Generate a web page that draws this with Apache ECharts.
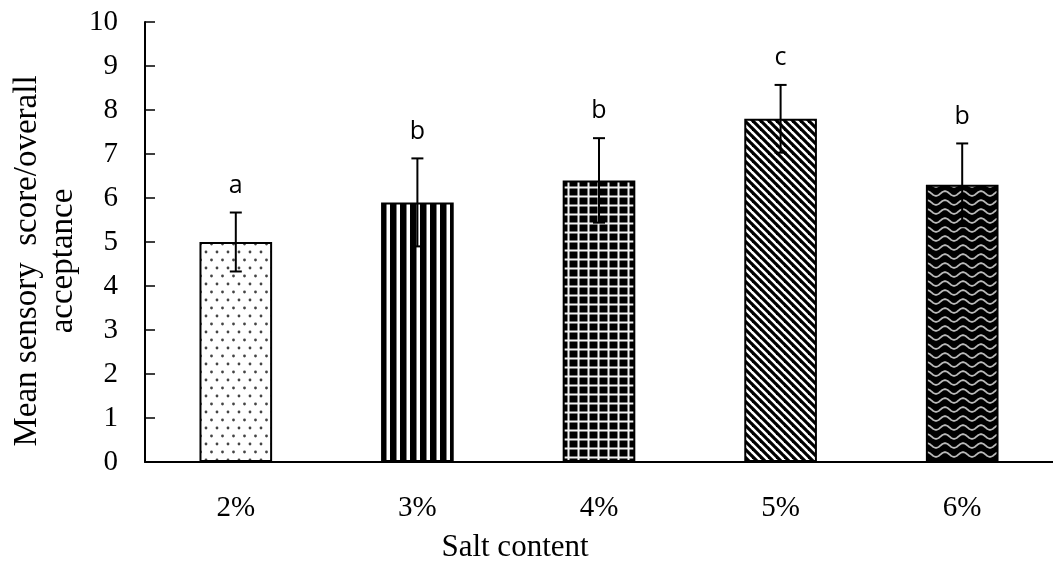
<!DOCTYPE html>
<html>
<head>
<meta charset="utf-8">
<script src="https://cdn.jsdelivr.net/npm/echarts@6/dist/echarts.min.js"></script>
<style>
  html, body { margin: 0; padding: 0; background: #fff; }
  #chart { width: 1053px; height: 567px; }
</style>
</head>
<body>
<div id="chart"></div>
<script>
// Sensory evaluation by salt content
var categories = ['2%', '3%', '4%', '5%', '6%'];
var meanScores = [5.0, 5.9, 6.4, 7.8, 6.3];
var stdDevs = [0.67, 1.0, 0.96, 0.77, 0.94];
var groupLetters = ['a', 'b', 'b', 'c', 'b'];
var yTicks = [0, 1, 2, 3, 4, 5, 6, 7, 8, 9, 10];

var serif = '"Liberation Serif", "Times New Roman", serif';
var sans = '"Open Sans", "Noto Sans", sans-serif';

// Fill patterns, one per bar
function makePattern(w, h, draw) {
  var c = document.createElement('canvas');
  c.width = w; c.height = h;
  var ctx = c.getContext('2d');
  draw(ctx, w, h);
  return { image: c, repeat: 'repeat' };
}

var patDots = makePattern(11, 16, function (ctx, w, h) {
  ctx.fillStyle = '#fff'; ctx.fillRect(0, 0, w, h);
  ctx.fillStyle = '#444';
  ctx.beginPath(); ctx.arc(2.5, 4, 1.4, 0, Math.PI * 2); ctx.fill();
  ctx.beginPath(); ctx.arc(8, 12, 1.4, 0, Math.PI * 2); ctx.fill();
});

var patVertical = makePattern(10, 10, function (ctx, w, h) {
  ctx.fillStyle = '#fff'; ctx.fillRect(0, 0, w, h);
  ctx.fillStyle = '#000'; ctx.fillRect(0, 0, 6.5, h);
});

var patGrid = makePattern(10, 9, function (ctx, w, h) {
  ctx.fillStyle = '#000'; ctx.fillRect(0, 0, w, h);
  ctx.fillStyle = '#f2f2f2';
  ctx.fillRect(7.5, 0, 2, h);
  ctx.fillRect(0, 6.5, w, 2);
});

var patDiagonal = makePattern(8, 8, function (ctx, w, h) {
  ctx.fillStyle = '#fff'; ctx.fillRect(0, 0, w, h);
  ctx.strokeStyle = '#000'; ctx.lineWidth = 3.2;
  for (var k = -1; k <= 1; k++) {
    ctx.beginPath();
    ctx.moveTo(-2, k * h - 2);
    ctx.lineTo(w + 2, k * h + w + 2);
    ctx.stroke();
  }
});

var patWave = makePattern(18, 9, function (ctx, w, h) {
  ctx.fillStyle = '#000'; ctx.fillRect(0, 0, w, h);
  ctx.strokeStyle = '#bbb'; ctx.lineWidth = 1.8;
  for (var k = -1; k <= 1; k++) {
    ctx.beginPath();
    for (var x = -1; x <= w + 1; x += 0.5) {
      var y = h / 2 + k * h + 2.3 * Math.cos(2 * Math.PI * x / w);
      if (x === -1) ctx.moveTo(x, y); else ctx.lineTo(x, y);
    }
    ctx.stroke();
  }
});

var fills = [patDots, patVertical, patGrid, patDiagonal, patWave];

var barData = meanScores.map(function (v, i) {
  return { value: v, itemStyle: { color: fills[i] } };
});

var errData = meanScores.map(function (v, i) {
  return [i, v - stdDevs[i], v + stdDevs[i], groupLetters[i]];
});

var chart = echarts.init(document.getElementById('chart'), null, { renderer: 'canvas' });

chart.setOption({
  animation: false,
  backgroundColor: '#fff',
  grid: { left: 145, top: 22, bottom: 105, right: -8, containLabel: false },
  xAxis: {
    type: 'category',
    data: categories,
    boundaryGap: true,
    axisLine: { lineStyle: { color: '#000', width: 2 } },
    axisTick: { inside: true, length: 10, interval: 0, lineStyle: { color: '#000', width: 1.5 } },
    axisLabel: { color: '#000', fontFamily: serif, fontSize: 29, margin: 32 }
  },
  yAxis: {
    type: 'value',
    min: yTicks[0],
    max: yTicks[yTicks.length - 1],
    interval: 1,
    axisLine: { show: true, lineStyle: { color: '#000', width: 2 } },
    axisTick: { show: true, inside: true, length: 10, lineStyle: { color: '#000', width: 1.5 } },
    splitLine: { show: false },
    axisLabel: { color: '#000', fontFamily: serif, fontSize: 29, margin: 27 }
  },
  graphic: [
    {
      type: 'text',
      x: 515, y: 548,
      style: { text: 'Salt content', font: '31px ' + serif, fill: '#000', align: 'center', verticalAlign: 'middle' }
    },
    {
      type: 'text',
      x: 45, y: 261, rotation: Math.PI / 2,
      style: {
        text: 'Mean sensory  score/overall\nacceptance',
        font: '33px ' + serif, fill: '#000',
        align: 'center', verticalAlign: 'middle', lineHeight: 36
      }
    }
  ],
  series: [
    {
      type: 'bar',
      data: barData,
      barWidth: '40%',
      itemStyle: { borderColor: '#000', borderWidth: 2 },
      z: 2
    },
    {
      type: 'custom',
      data: errData,
      z: 5,
      renderItem: function (params, api) {
        var x = api.value(0);
        var lo = api.coord([x, api.value(1)]);
        var hi = api.coord([x, api.value(2)]);
        var cap = 6;
        var st = { stroke: '#000', lineWidth: 2 };
        return {
          type: 'group',
          children: [
            { type: 'line', shape: { x1: hi[0], y1: hi[1], x2: lo[0], y2: lo[1] }, style: st },
            { type: 'line', shape: { x1: hi[0] - cap, y1: hi[1], x2: hi[0] + cap, y2: hi[1] }, style: st },
            { type: 'line', shape: { x1: lo[0] - cap, y1: lo[1], x2: lo[0] + cap, y2: lo[1] }, style: st },
            {
              type: 'text',
              x: hi[0], y: hi[1] - 27,
              style: {
                text: errData[params.dataIndex][3],
                font: '25px ' + sans, fill: '#000',
                align: 'center', verticalAlign: 'middle'
              }
            }
          ]
        };
      }
    }
  ]
});
</script>
</body>
</html>
